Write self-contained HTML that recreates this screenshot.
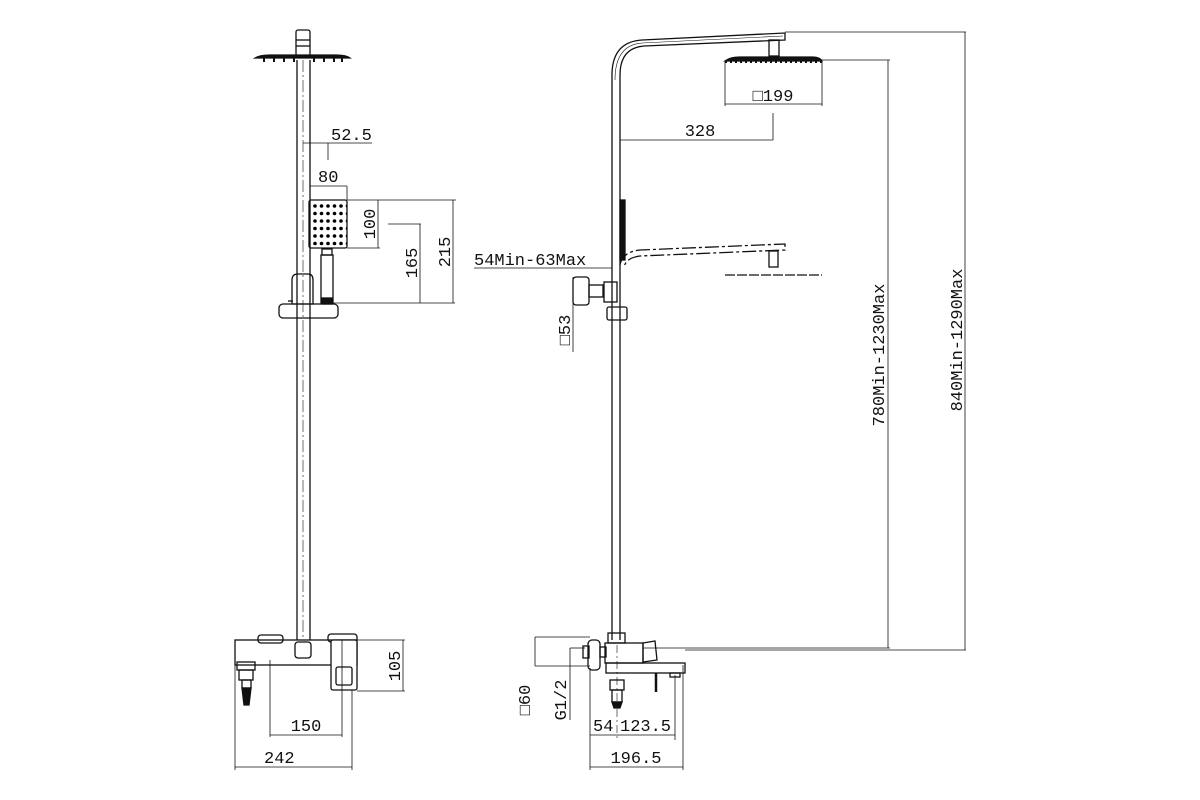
<!DOCTYPE html>
<html><head><meta charset="utf-8"><style>
html,body{margin:0;padding:0;background:#fff}
svg{display:block}
text{font-family:"Liberation Mono","DejaVu Sans Mono",monospace;font-size:17px;fill:#111}
</style></head><body>
<svg width="1200" height="800" viewBox="0 0 1200 800" xmlns="http://www.w3.org/2000/svg">
<defs>
<pattern id="dots" x="312" y="203" width="6.5" height="7.5" patternUnits="userSpaceOnUse"><circle cx="3" cy="3" r="1.8" fill="#000"/></pattern>
</defs>
<g fill="none" stroke="#111" stroke-width="1.3">
<!-- LEFT VIEW -->
<rect x="296" y="30" width="14" height="26" rx="2"/>
<line x1="296" y1="40" x2="310" y2="40"/><line x1="296" y1="46" x2="310" y2="46"/>
<path d="M255 58 Q260 55 270 55 L336 55 Q346 55 350 58 Z" fill="#111"/>
<g stroke-width="2"><line x1="264" y1="58" x2="264" y2="62"/><line x1="274" y1="58" x2="274" y2="62"/><line x1="284" y1="58" x2="284" y2="62"/><line x1="294" y1="58" x2="294" y2="62"/><line x1="314" y1="58" x2="314" y2="62"/><line x1="324" y1="58" x2="324" y2="62"/><line x1="334" y1="58" x2="334" y2="62"/><line x1="342" y1="58" x2="342" y2="62"/></g>
<line x1="297" y1="60" x2="297" y2="640"/><line x1="310" y1="60" x2="310" y2="640"/>
<line x1="303" y1="60" x2="303" y2="640" stroke-width="0.6" stroke-dasharray="12,3,2,3"/>
<!-- 52.5 -->
<line x1="303" y1="143" x2="372" y2="143" stroke-width="0.8"/>
<line x1="328" y1="143" x2="328" y2="160" stroke-width="0.8"/>
<!-- 80 -->
<line x1="310" y1="186" x2="347" y2="186" stroke-width="0.8"/>
<line x1="347" y1="186" x2="347" y2="200" stroke-width="0.8"/>
<!-- hand shower -->
<rect x="309" y="200" width="38" height="48" rx="2" fill="url(#dots)"/>
<rect x="322" y="249" width="10" height="6"/>
<rect x="321" y="255" width="12" height="48"/>
<rect x="322" y="298" width="10" height="6" fill="#111"/>
<path d="M292 280 Q292 274 298 274 L308 274 Q313 274 313 280 L313 304 L292 304 Z"/>
<rect x="279" y="304" width="59" height="14" rx="4"/>
<line x1="288" y1="301" x2="293" y2="301"/>
<line x1="347" y1="200" x2="456" y2="200" stroke-width="0.8"/>
<line x1="347" y1="248" x2="380" y2="248" stroke-width="0.8"/>
<line x1="378" y1="200" x2="378" y2="248" stroke-width="0.8"/>
<line x1="388" y1="224" x2="421" y2="224" stroke-width="0.8"/>
<line x1="420" y1="224" x2="420" y2="303" stroke-width="0.8"/>
<line x1="333" y1="303" x2="455" y2="303" stroke-width="0.8"/>
<line x1="453" y1="200" x2="453" y2="303" stroke-width="0.8"/>
<!-- left mixer -->
<rect x="258" y="635" width="25" height="8" rx="3"/>
<rect x="328" y="634" width="29" height="8" rx="3"/>
<rect x="235" y="640" width="122" height="25"/>
<rect x="295" y="642" width="16" height="16" rx="3"/>
<rect x="331" y="640" width="26" height="50" rx="2" fill="#fff"/>
<rect x="336" y="667" width="16" height="18" rx="2"/>
<rect x="237" y="662" width="18" height="8"/>
<rect x="239" y="670" width="14" height="10"/>
<rect x="242" y="680" width="9" height="8"/>
<path d="M242 688 L251 688 L249 705 L244 705 Z" fill="#111"/>
<line x1="270" y1="660" x2="270" y2="737" stroke-width="0.8"/>
<line x1="342" y1="640" x2="342" y2="737" stroke-width="0.8"/>
<line x1="270" y1="735" x2="342" y2="735" stroke-width="0.8"/>
<line x1="235" y1="665" x2="235" y2="770" stroke-width="0.8"/>
<line x1="352" y1="690" x2="352" y2="770" stroke-width="0.8"/>
<line x1="235" y1="767" x2="352" y2="767" stroke-width="0.8"/>
<line x1="357" y1="640" x2="405" y2="640" stroke-width="0.8"/>
<line x1="357" y1="691" x2="405" y2="691" stroke-width="0.8"/>
<line x1="403" y1="640" x2="403" y2="691" stroke-width="0.8"/>
<!-- RIGHT VIEW -->
<path d="M612 640 L612 75 Q612 42 642 40 L785 33 L785 40 L644 46 Q620 48 620 75 L620 640"/>
<path d="M615 80 Q615 45 642 43 L783 36" stroke-width="0.6"/>
<rect x="769" y="40" width="10" height="16"/>
<path d="M725 61 Q730 57 740 57 L812 57 Q820 57 822 61 Z" fill="#111"/>
<line x1="725" y1="62" x2="822" y2="62" stroke-dasharray="2,3" stroke-width="2"/>
<line x1="725" y1="62" x2="725" y2="106" stroke-width="0.8"/>
<line x1="822" y1="62" x2="822" y2="106" stroke-width="0.8"/>
<line x1="725" y1="104" x2="822" y2="104" stroke-width="0.8"/>
<line x1="620" y1="140" x2="773" y2="140" stroke-width="0.8"/>
<line x1="773" y1="113" x2="773" y2="140" stroke-width="0.8"/>
<!-- side hand shower -->
<rect x="620" y="200" width="5" height="60" fill="#111"/>
<path d="M620 265 Q622 252 640 250 L785 244 L785 250 L640 256 Q625 258 624 268" stroke-dasharray="14,3,3,3"/>
<rect x="769" y="251" width="9" height="16"/>
<line x1="725" y1="275" x2="822" y2="275" stroke-dasharray="10,2"/>
<line x1="474" y1="268" x2="612" y2="268" stroke-width="0.8"/>
<rect x="573" y="277" width="16" height="28" rx="3"/>
<rect x="589" y="285" width="14" height="12"/>
<rect x="604" y="282" width="13" height="20"/>
<rect x="607" y="307" width="20" height="13" rx="2"/>
<line x1="573" y1="277" x2="573" y2="352" stroke-width="0.8"/>
<!-- right mixer -->
<rect x="608" y="633" width="17" height="10"/>
<rect x="605" y="643" width="38" height="20"/>
<path d="M643 643 L655 641 L657 660 L643 662 Z"/>
<rect x="588" y="640" width="12" height="30" rx="4"/>
<rect x="583" y="646" width="6" height="12"/>
<rect x="600" y="647" width="6" height="10"/>
<rect x="606" y="663" width="79" height="10"/>
<rect x="670" y="673" width="10" height="4"/>
<line x1="656" y1="673" x2="656" y2="692" stroke-width="2.5"/>
<rect x="610" y="680" width="14" height="10"/>
<rect x="612" y="690" width="10" height="12"/>
<path d="M612 702 L622 702 L620 708 L614 708 Z" fill="#111"/>
<line x1="617" y1="645" x2="617" y2="740" stroke-width="0.6" stroke-dasharray="8,3,2,3"/>
<line x1="535" y1="637" x2="590" y2="637" stroke-width="0.8"/>
<line x1="535" y1="666" x2="590" y2="666" stroke-width="0.8"/>
<line x1="535" y1="637" x2="535" y2="666" stroke-width="0.8"/>
<line x1="570" y1="648" x2="585" y2="648" stroke-width="0.8"/>
<line x1="570" y1="648" x2="570" y2="720" stroke-width="0.8"/>
<line x1="590" y1="668" x2="590" y2="770" stroke-width="0.8"/>
<line x1="675" y1="675" x2="675" y2="740" stroke-width="0.8"/>
<line x1="683" y1="665" x2="683" y2="770" stroke-width="0.8"/>
<line x1="590" y1="735" x2="675" y2="735" stroke-width="0.8"/>
<line x1="590" y1="767" x2="683" y2="767" stroke-width="0.8"/>
<!-- big dims -->
<line x1="785" y1="32" x2="966" y2="32" stroke-width="0.8"/>
<line x1="822" y1="60" x2="890" y2="60" stroke-width="0.8"/>
<line x1="888" y1="60" x2="888" y2="648" stroke-width="0.8"/>
<line x1="965" y1="32" x2="965" y2="650" stroke-width="0.8"/>
<line x1="643" y1="648" x2="890" y2="648" stroke-width="0.8"/>
<line x1="685" y1="650" x2="966" y2="650" stroke-width="0.8"/>
</g>
<text x="331" y="140">52.5</text>
<text x="318" y="182">80</text>
<text transform="translate(375,224) rotate(-90)" text-anchor="middle">100</text>
<text transform="translate(417,263) rotate(-90)" text-anchor="middle">165</text>
<text transform="translate(450,252) rotate(-90)" text-anchor="middle">215</text>
<text transform="translate(400,666) rotate(-90)" text-anchor="middle">105</text>
<text x="306" y="731" text-anchor="middle">150</text>
<text x="264" y="763">242</text>
<text x="773" y="101" text-anchor="middle">□199</text>
<text x="700" y="136" text-anchor="middle">328</text>
<text x="474" y="265">54Min-63Max</text>
<text transform="translate(570,330) rotate(-90)" text-anchor="middle">□53</text>
<text transform="translate(530,700) rotate(-90)" text-anchor="middle">□60</text>
<text transform="translate(566,700) rotate(-90)" text-anchor="middle">G1/2</text>
<text x="593" y="731">54</text>
<text x="620" y="731">123.5</text>
<text x="636" y="763" text-anchor="middle">196.5</text>
<text transform="translate(884,355) rotate(-90)" text-anchor="middle">780Min-1230Max</text>
<text transform="translate(962,340) rotate(-90)" text-anchor="middle">840Min-1290Max</text>
</svg>
</body></html>
